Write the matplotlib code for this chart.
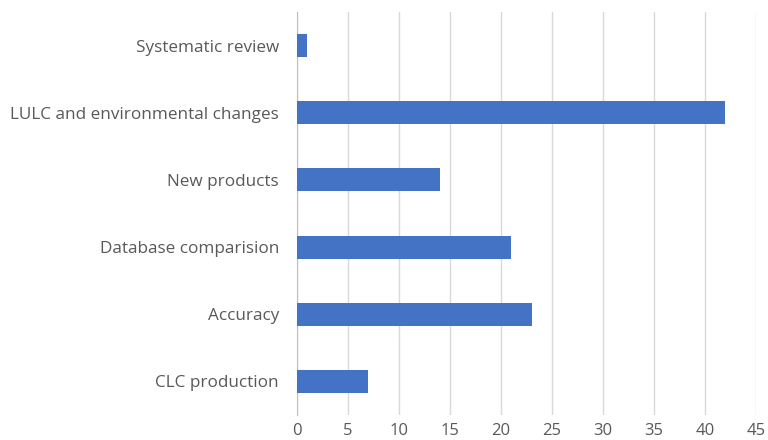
import matplotlib
matplotlib.use("Agg")
import matplotlib.pyplot as plt

categories = ["CLC production", "Accuracy", "Database comparision",
              "New products", "LULC and environmental changes", "Systematic review"]
values = [7, 23, 21, 14, 42, 1]
xticks = [0, 5, 10, 15, 20, 25, 30, 35, 40, 45]

plt.rcParams['font.family'] = ['Open Sans', 'DejaVu Sans']

fig = plt.figure(figsize=(7.68, 4.4), dpi=100)
ax = fig.add_axes([297/768, 1-415/440, (756-297)/768, (415-12)/440])

ax.barh(range(len(categories)), values, height=0.34, color="#4472C4", zorder=3)
ax.set_yticks(range(len(categories)))
ax.set_yticklabels(categories, fontsize=12.3, color="#595959")
ax.set_ylim(-0.5, len(categories)-0.5)
ax.set_xlim(0, 45)
ax.set_xticks(xticks)
ax.set_xticklabels([str(t) for t in xticks], fontsize=12, color="#595959")
ax.grid(axis='x', color="#D9D9D9", linewidth=1, zorder=0)
for s in ['top', 'right', 'bottom']:
    ax.spines[s].set_visible(False)
ax.spines['left'].set_color("#BFBFBF")
ax.tick_params(axis='both', length=0)
ax.tick_params(axis='y', pad=13)
ax.tick_params(axis='x', pad=6)

fig.savefig("out.png", dpi=100)
